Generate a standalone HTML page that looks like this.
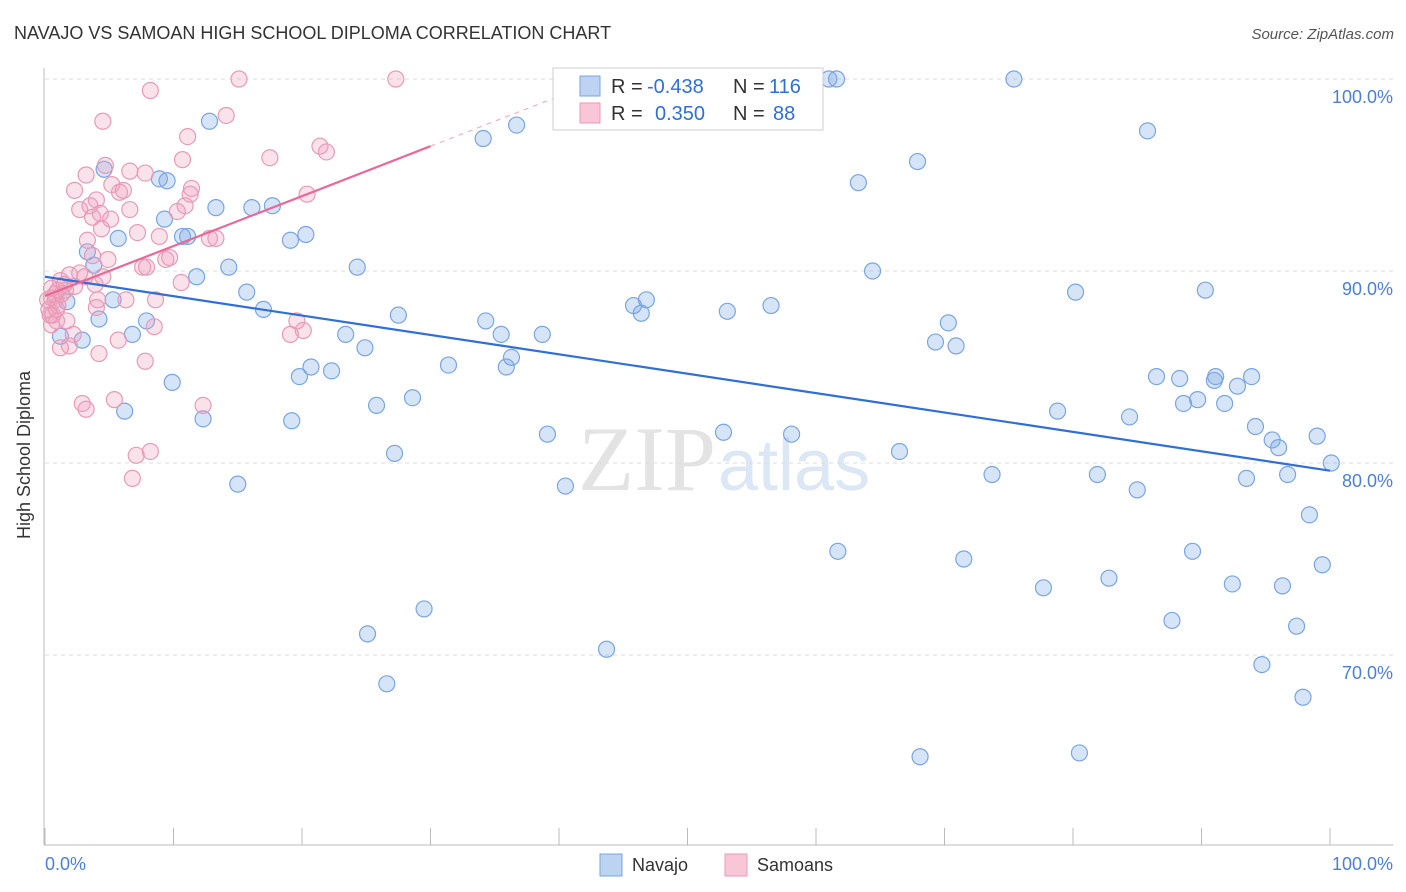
<!DOCTYPE html>
<html><head><meta charset="utf-8"><style>
body{margin:0;background:#fff;font-family:"Liberation Sans",sans-serif}
svg{display:block}
</style></head><body>
<svg id="chart" width="1406" height="892" viewBox="0 0 1406 892">
<text x="14" y="39" font-size="18" fill="#333">NAVAJO VS SAMOAN HIGH SCHOOL DIPLOMA CORRELATION CHART</text>
<text x="1394" y="39" font-size="15" fill="#555" font-style="italic" text-anchor="end">Source: ZipAtlas.com</text>
<text x="716" y="490" font-size="92" fill="#e3e3e3" text-anchor="end" font-family="Liberation Serif">ZIP</text>
<text x="718" y="490" font-size="72" fill="#dce7f5">atlas</text>
<g id="grid"></g>
<g id="axes"></g>
<g id="marks"></g>
<text x="30" y="455" font-size="18" fill="#333" text-anchor="middle" transform="rotate(-90 30 455)">High School Diploma</text>
<text x="45" y="870" font-size="18" fill="#4a7fd8">0.0%</text>
<text x="1393" y="870" font-size="18" fill="#4a7fd8" text-anchor="end">100.0%</text>
<g font-size="20">
<rect x="553" y="68" width="270" height="62" fill="#fff" stroke="#ccc"/>
<rect x="580" y="76" width="20" height="20" fill="#bcd3f2" stroke="#7aa5e0"/>
<rect x="580" y="103" width="20" height="20" fill="#f8c6d6" stroke="#e89ab5"/>
<text x="611" y="93" fill="#333">R =</text>
<text x="647" y="93" fill="#2f6fd6">-0.438</text>
<text x="733" y="93" fill="#333">N =</text>
<text x="769" y="93" fill="#2f6fd6">116</text>
<text x="611" y="120" fill="#333">R =</text>
<text x="655" y="120" fill="#2f6fd6">0.350</text>
<text x="733" y="120" fill="#333">N =</text>
<text x="773" y="120" fill="#2f6fd6">88</text>
</g>
<g>
<rect x="600" y="854" width="22" height="22" fill="#bcd3f2" stroke="#7aa5e0"/>
<text x="632" y="871" font-size="18" fill="#333">Navajo</text>
<rect x="725" y="854" width="22" height="22" fill="#f8c6d6" stroke="#e89ab5"/>
<text x="757" y="871" font-size="18" fill="#333">Samoans</text>
</g>
</svg>
<script>
const yTicks=[100,90,80,70];
const yTickLabels=["100.0%","90.0%","80.0%","70.0%"];
const xTicks=[0,10,20,30,40,50,60,70,80,90,100];
const navajoX=[52.4,61.0,61.6,75.4,12.8,34.1,36.7,85.8,4.6,9.5,8.9,63.3,67.9,13.3,16.1,17.7,9.3,10.7,11.1,5.7,19.1,20.3,3.3,11.8,14.3,24.3,64.4,3.8,15.7,17.0,5.3,1.7,80.2,90.3,45.8,46.8,46.4,53.1,56.5,27.5,34.3,4.2,7.9,35.5,38.7,23.4,6.8,1.2,2.9,70.3,69.3,70.9,24.9,31.4,35.9,36.3,19.8,20.7,22.3,9.9,86.5,88.3,91.1,93.9,92.8,91.0,88.6,89.7,91.8,28.6,25.8,78.8,84.4,6.2,12.3,19.2,94.2,95.5,96.0,99.0,52.8,58.1,39.1,27.2,66.5,100.1,73.7,81.9,93.5,96.7,15.0,40.5,85.0,98.4,61.7,71.5,89.3,82.8,77.7,92.4,96.3,99.4,29.5,25.1,43.7,87.7,97.4,26.6,94.7,97.9,68.1,80.5];
const navajoY=[100,100,100,100,97.8,96.9,97.6,97.3,95.3,94.7,94.8,94.6,95.7,93.3,93.3,93.4,92.7,91.8,91.8,91.7,91.6,91.9,91.0,89.7,90.2,90.2,90.0,90.3,88.9,88.0,88.5,88.4,88.9,89.0,88.2,88.5,87.8,87.9,88.2,87.7,87.4,87.5,87.4,86.7,86.7,86.7,86.7,86.6,86.4,87.3,86.3,86.1,86.0,85.1,85.0,85.5,84.5,85.0,84.8,84.2,84.5,84.4,84.5,84.5,84.0,84.3,83.1,83.3,83.1,83.4,83.0,82.7,82.4,82.7,82.3,82.2,81.9,81.2,80.8,81.4,81.6,81.5,81.5,80.5,80.6,80.0,79.4,79.4,79.2,79.4,78.9,78.8,78.6,77.3,75.4,75.0,75.4,74.0,73.5,73.7,73.6,74.7,72.4,71.1,70.3,71.8,71.5,68.5,69.5,67.8,64.7,64.9];
const samoanX=[0.5,0.8,0.3,0.6,1.0,0.9,0.5,1.2,1.6,1.9,2.3,2.7,1.0,1.3,1.7,1.9,2.2,3.1,3.7,3.9,4.2,4.1,4.0,4.5,2.3,2.7,3.2,3.5,4.0,4.3,3.7,4.4,5.1,3.3,4.7,5.2,5.8,6.1,6.6,6.6,7.8,7.2,7.6,7.9,9.4,9.7,8.9,10.3,10.7,10.9,11.4,11.1,11.3,10.6,8.6,6.3,5.7,7.8,8.5,4.5,8.2,15.1,14.1,27.3,17.5,21.4,21.9,20.4,12.8,13.3,20.1,19.6,19.1,12.3,2.9,3.2,5.4,7.1,8.2,6.8,1.2,0.9,0.4,0.8,0.2,0.5,1.5,4.9];
const samoanY=[88.6,88.5,88.0,87.7,88.2,87.4,87.2,89.5,89.0,89.8,89.2,89.9,89.0,88.8,87.4,86.1,86.7,89.7,90.8,89.3,85.7,88.5,88.1,89.7,94.2,93.2,95.0,93.4,93.7,93.0,92.8,92.2,92.7,91.6,95.5,94.5,94.1,94.2,93.2,95.2,95.1,92.0,90.2,90.2,90.6,90.7,91.8,93.1,95.8,93.4,94.3,97.0,94.0,89.4,88.5,88.5,86.4,85.3,87.1,97.8,99.4,100,98.1,100,95.9,96.5,96.2,94.0,91.7,91.7,86.9,87.4,86.7,83.0,83.1,82.8,83.3,80.4,80.6,79.2,86.0,88.0,87.7,88.8,88.5,89.1,89.3,90.6];
const navajoTrend=[[0,89.7],[100,79.6]];
const samoanTrend=[[0,88.7],[30,96.5]];
const samoanTrendExt=[[30,96.5],[40,99.1]];

const NS="http://www.w3.org/2000/svg";
function xs(v){return 45+v*12.85;}
function ys(v){return 79+(100-v)*19.2;}
function mk(tag,attrs,parent){const e=document.createElementNS(NS,tag);for(const k in attrs)e.setAttribute(k,attrs[k]);parent.appendChild(e);return e;}
const grid=document.getElementById('grid'),axes=document.getElementById('axes'),marks=document.getElementById('marks');
yTicks.forEach((t,i)=>{
  const l=mk('line',{x1:45,x2:1393,y1:ys(t),y2:ys(t),stroke:'#ddd','stroke-dasharray':'4,4'},grid);
  
  
  const tx=mk('text',{x:1393,y:ys(t)+24,'font-size':18,fill:'#4a7fd8','text-anchor':'end'},grid);
  tx.textContent=yTickLabels[i];
  
  
});
const ya=mk('line',{x1:44,x2:44,y1:68,y2:845,stroke:'#bbb'},axes);


const xa=mk('line',{x1:44,x2:1393,y1:845,y2:845,stroke:'#bbb'},axes);


xTicks.forEach(t=>{
  const l=mk('line',{x1:xs(t),x2:xs(t),y1:828,y2:845,stroke:'#bbb'},axes);
  
  
});
function dots(X,Y,fill,stroke,name){
  X.forEach((x,i)=>{
    const c=mk('circle',{cx:xs(x),cy:ys(Y[i]),r:8,fill:fill,stroke:stroke,'stroke-width':1.2},marks);
    
    
  });
}
dots(navajoX,navajoY,'rgba(120,165,230,0.3)','#7aa5e0','navajo-point');
dots(samoanX,samoanY,'rgba(240,160,190,0.3)','#e89ab5','samoan-point');
function line(p,color,dash,name,w){
  const l=mk('line',{x1:xs(p[0][0]),y1:ys(p[0][1]),x2:xs(p[1][0]),y2:ys(p[1][1]),stroke:color,'stroke-width':w},marks);
  if(dash)l.setAttribute('stroke-dasharray',dash);
  
  
}
line(navajoTrend,'#2f6fd6',null,'navajo-trendline',2.2);
line(samoanTrend,'#e8689a',null,'samoan-trendline',2.2);
line(samoanTrendExt,'#f0b0c8','5,5','samoan-trendline-extension',1.2);
</script>
</body></html>
